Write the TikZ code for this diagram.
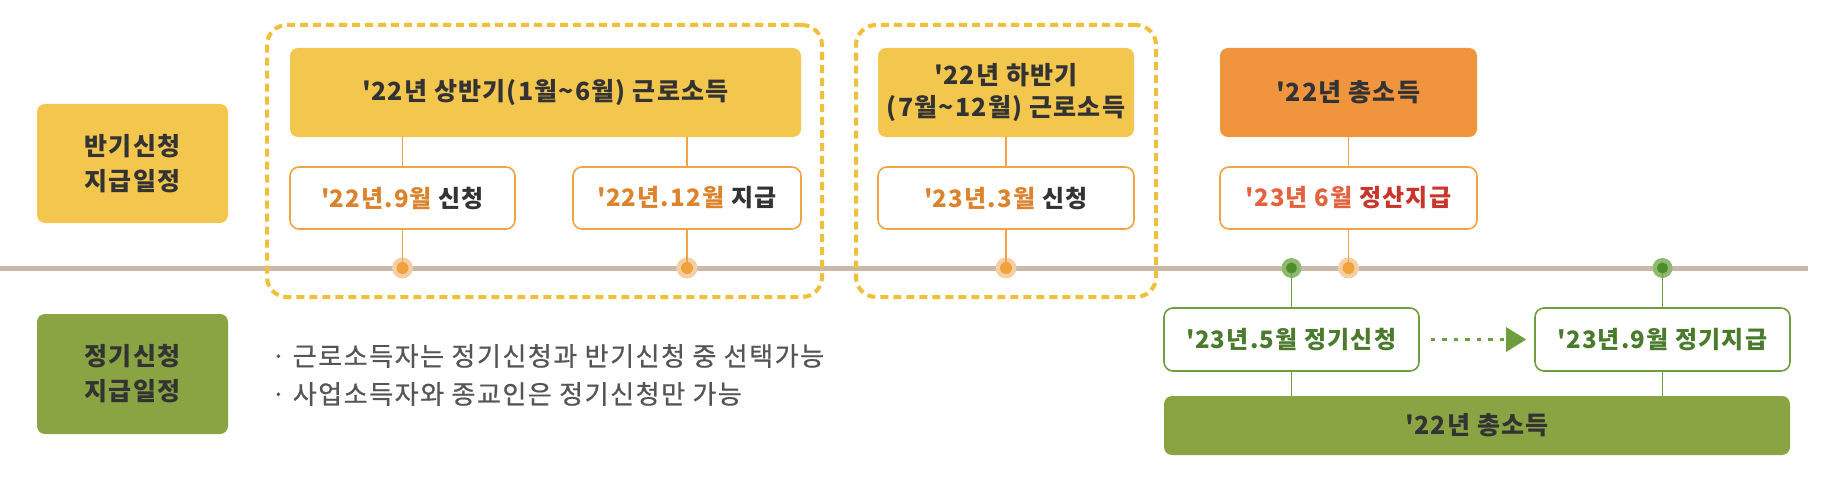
\documentclass[tikz,border=0pt]{standalone}
\usepackage{fontspec}
\setmainfont{Noto Sans CJK KR}[LetterSpace=5]
\newfontfamily\krmed{Noto Sans CJK KR}[LetterSpace=6, FakeBold=0.7]
\usetikzlibrary{arrows.meta}
\definecolor{cyel}{HTML}{F3C64E}
\definecolor{cdash}{HTML}{EFC03C}
\definecolor{corg}{HTML}{F0953E}
\definecolor{cgrn}{HTML}{8AA443}
\definecolor{cline}{HTML}{C9B9A8}
\definecolor{cob}{HTML}{F2A444}
\definecolor{cotx}{HTML}{DC832E}
\definecolor{cgb}{HTML}{6E9E3E}
\definecolor{cgtx}{HTML}{4A7A2C}
\definecolor{ctx}{HTML}{333333}
\definecolor{cgray}{HTML}{555555}
\definecolor{cred}{HTML}{C8352B}
\definecolor{credl}{HTML}{E2643F}
\definecolor{cdot}{HTML}{F2A23A}
\definecolor{chalo}{HTML}{F4CFA6}
\definecolor{cgdot}{HTML}{4E8C2C}
\definecolor{cghalo}{HTML}{8DBA6E}
\newcommand\qt{\textquotesingle}
\tikzset{
  big/.style={font=\bfseries\fontsize{25}{35}\selectfont, text=ctx, align=center, inner sep=0pt},
  mid/.style={font=\bfseries\fontsize{24}{30}\selectfont, align=center, inner sep=0pt},
  ybox/.style={big, fill=cyel, rounded corners=8pt},
  obox/.style={big, fill=corg, rounded corners=8pt},
  gbox/.style={big, fill=cgrn, rounded corners=8pt},
  osub/.style={mid, draw=cob, line width=1.6pt, fill=white, rounded corners=9pt, minimum height=62pt},
  gsub/.style={mid, draw=cgb, line width=1.6pt, fill=white, rounded corners=9pt, minimum height=63pt, text=cgtx},
  dashbox/.style={draw=cdash, line width=4pt, dash pattern=on 8pt off 5pt, rounded corners=20pt, inner sep=0pt},
  oconn/.style={draw=cob, line width=1.5pt},
  gconn/.style={draw=cgb, line width=1.5pt},
  bul/.style={font=\krmed\fontsize{26}{30}\selectfont, text=cgray, anchor=west, inner sep=0pt},
}
\begin{document}
\begin{tikzpicture}[x=1pt,y=-1pt]
\useasboundingbox (0,0) rectangle (1838,492);
% timeline
\coordinate (t0) at (0,268);
\coordinate (t1) at (1808,268);
\draw[cline, line width=5pt] (t0) -- (t1);
% dashed groups
\node[dashbox, minimum width=555pt, minimum height=272pt] (d1) at (544.5,161) {};
\node[dashbox, minimum width=300pt, minimum height=272pt] (d2) at (1006,161) {};
% left labels
\node[ybox, minimum width=191pt, minimum height=119pt] (l1) at (132.5,163.5) {반기신청\\지급일정};
\node[gbox, minimum width=191pt, minimum height=120pt] (l2) at (132.5,374) {정기신청\\지급일정};
% top boxes
\node[ybox, minimum width=511pt, minimum height=89pt] (A) at (545.5,92.5) {\qt22년 상반기(1월\textasciitilde6월) 근로소득};
\node[ybox, minimum width=256pt, minimum height=89pt, font=\bfseries\fontsize{25}{32}\selectfont] (B) at (1006,92.5) {\qt22년 하반기\\(7월\textasciitilde12월) 근로소득};
\node[obox, minimum width=257pt, minimum height=89pt] (C) at (1348.5,92.5) {\qt22년 총소득};
% sub boxes
\node[osub, minimum width=225pt] (A1) at (402.5,198) {\textcolor{cotx}{\qt22년.9월} \textcolor{ctx}{신청}};
\node[osub, minimum width=228pt] (A2) at (687,198) {\textcolor{cotx}{\qt22년.12월} \textcolor{ctx}{지급}};
\node[osub, minimum width=256pt] (B1) at (1006,198) {\textcolor{cotx}{\qt23년.3월} \textcolor{ctx}{신청}};
\node[osub, minimum width=257pt] (C1) at (1348.5,198) {\textcolor{credl}{\qt23년 6월} \textcolor{cred}{정산지급}};
% orange dots
\foreach \n/\x in {dA1/402.5,dA2/687,dB1/1006,dC1/1348.5}{
  \fill[chalo] (\x,268) circle (10.5pt);
  \node[circle, fill=cdot, inner sep=0pt, minimum size=12pt] (\n) at (\x,268) {};
}
% connectors orange
\draw[oconn] (A1.north |- A.south) -- (A1.north);
\draw[oconn] (A2.north |- A.south) -- (A2.north);
\draw[oconn] (B.south) -- (B1.north);
\draw[oconn] (C.south) -- (C1.north);
\draw[oconn] (A1.south) -- (dA1.north);
\draw[oconn] (A2.south) -- (dA2.north);
\draw[oconn] (B1.south) -- (dB1.north);
\draw[oconn] (C1.south) -- (dC1.north);
% green part
\node[gsub, minimum width=255pt] (G1) at (1291.5,339.5) {\qt23년.5월 정기신청};
\node[gsub, minimum width=255pt] (G2) at (1662.5,339.5) {\qt23년.9월 정기지급};
\node[gbox, minimum width=626pt, minimum height=59pt] (G) at (1477,425.5) {\qt22년 총소득};
\foreach \n/\x in {dG1/1291.5,dG2/1662.5}{
  \fill[cghalo] (\x,268) circle (10pt);
  \node[circle, fill=cgdot, inner sep=0pt, minimum size=11pt] (\n) at (\x,268) {};
}
\draw[gconn] (dG1.south) -- (G1.north);
\draw[gconn] (dG2.south) -- (G2.north);
\draw[gconn] (G1.south) -- (G1.south |- G.north);
\draw[gconn] (G2.south) -- (G2.south |- G.north);
\coordinate (ar0) at ([xshift=11pt]G1.east);
\coordinate (ar1) at ([xshift=-8pt]G2.west);
\draw[cgb, line width=3pt, dash pattern=on 4.5pt off 7pt, -{Triangle[length=20pt,width=24pt,fill=cgb]}] (ar0) -- (ar1);
% bullets
\node[bul] (b1) at (271,356) {·\hspace{7pt}근로소득자는 정기신청과 반기신청 중 선택가능};
\node[bul] (b2) at (271,394) {·\hspace{7pt}사업소득자와 종교인은 정기신청만 가능};
\end{tikzpicture}
\end{document}
